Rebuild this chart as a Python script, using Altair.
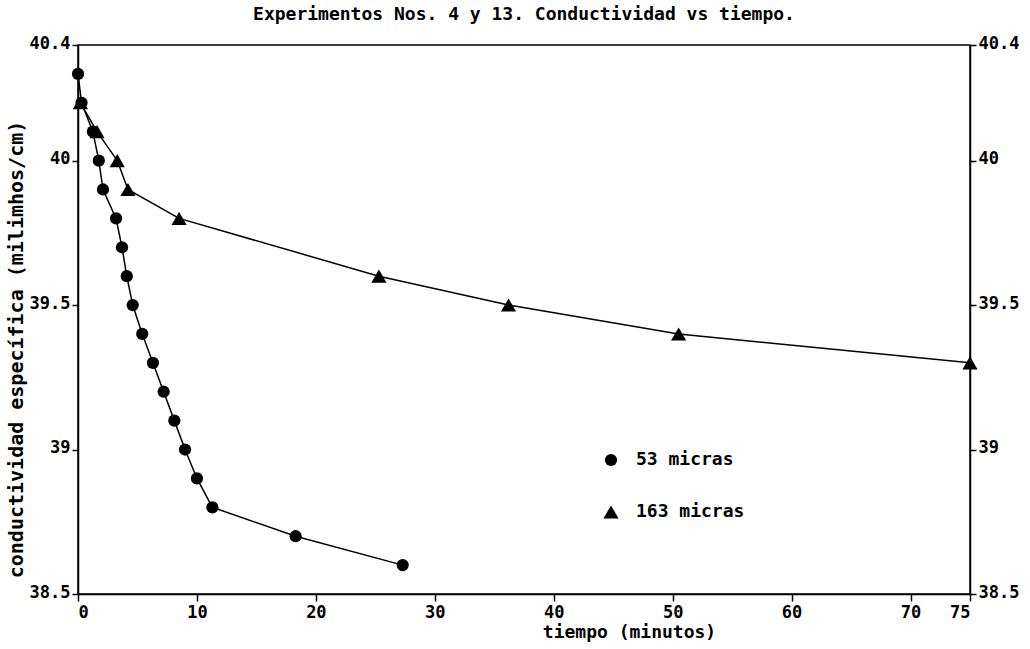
import altair as alt
import pandas as pd

# 53 micras (circles)
t53 = [0, 0.3, 1.25, 1.75, 2.1, 3.2, 3.7, 4.1, 4.6, 5.4, 6.3, 7.2, 8.1, 9.0, 10.0, 11.3, 18.3, 27.3]
c53 = [40.3, 40.2, 40.1, 40.0, 39.9, 39.8, 39.7, 39.6, 39.5, 39.4, 39.3, 39.2, 39.1, 39.0, 38.9, 38.8, 38.7, 38.6]

# 163 micras (triangles)
t163 = [0.2, 1.6, 3.3, 4.2, 8.5, 25.3, 36.2, 50.5, 75.0]
c163 = [40.2, 40.1, 40.0, 39.9, 39.8, 39.6, 39.5, 39.4, 39.3]

series_names = ["53 micras", "163 micras"]
x_ticks = [0, 10, 20, 30, 40, 50, 60, 70, 75]
y_ticks = [38.5, 39, 39.5, 40, 40.4]

df = pd.concat([
    pd.DataFrame({"t": t53, "c": c53, "serie": series_names[0]}),
    pd.DataFrame({"t": t163, "c": c163, "serie": series_names[1]}),
], ignore_index=True)

FONT = "DejaVu Sans Mono"

xscale = alt.Scale(domain=[0, 75], nice=False, zero=False)
yscale = alt.Scale(domain=[38.5, 40.4], nice=False, zero=False)

xaxis = alt.Axis(
    values=x_ticks, format="~g", grid=False, domainColor="black", domainWidth=1.5,
    tickColor="black", tickSize=7, tickWidth=1.5, labelFont=FONT, labelFontSize=17,
    labelFontWeight="bold", labelColor="black", labelPadding=3,
    title="tiempo (minutos)", titleFont=FONT, titleFontSize=18, titleFontWeight="bold",
    titleColor="black", titleX=551, titleY=38, titleBaseline="middle", titleAnchor="start",
    titleAlign="center",
)

yaxis_left = alt.Axis(
    values=y_ticks, format="~g", grid=False, domainColor="black", domainWidth=1.5,
    tickColor="black", tickSize=6, tickWidth=1.5, labelFont=FONT, labelFontSize=17,
    labelFontWeight="bold", labelColor="black", labelPadding=2, labelOffset=-2,
    title="conductividad específica (milimhos/cm)", titleFont=FONT, titleFontSize=20,
    titleFontWeight="bold", titleColor="black", titleX=-62, titleY=304,
    titleAngle=-90, titleAlign="center", titleBaseline="middle",
)

yaxis_right = alt.Axis(
    orient="right", values=y_ticks, format="~g", grid=False, domainColor="black",
    domainWidth=1.5, tickColor="black", tickSize=6, tickWidth=1.5, labelFont=FONT,
    labelFontSize=17, labelFontWeight="bold", labelColor="black", labelPadding=2,
    labelOffset=-2, title=None,
)

shape_scale = alt.Scale(domain=series_names, range=["circle", "triangle-up"])
size_scale = alt.Scale(domain=series_names, range=[150, 230])

legend = alt.Legend(
    title=None, orient="none", legendX=524, legendY=406,
    labelFont=FONT, labelFontSize=18, labelFontWeight="bold", labelColor="black",
    symbolFillColor="black", symbolStrokeColor="black",
    symbolOpacity=1, rowPadding=32, labelOffset=16,
)

lines = alt.Chart(df).mark_line(color="black", strokeWidth=1.5).encode(
    x=alt.X("t:Q", scale=xscale, axis=xaxis),
    y=alt.Y("c:Q", scale=yscale, axis=yaxis_left),
    detail="serie:N",
)

points = alt.Chart(df).mark_point(filled=True, color="black", opacity=1).encode(
    x=alt.X("t:Q", scale=xscale),
    y=alt.Y("c:Q", scale=yscale),
    shape=alt.Shape("serie:N", scale=shape_scale, legend=legend),
    size=alt.Size("serie:N", scale=size_scale, legend=legend),
)

right = alt.Chart(df).mark_point(opacity=0).encode(
    x=alt.X("t:Q", scale=xscale),
    y=alt.Y("c:Q", scale=yscale, axis=yaxis_right),
)

chart = (
    alt.layer(lines + points, right)
    .resolve_scale(y="independent")
    .properties(
        width=892, height=549,
        autosize=alt.AutoSizeParams(type="none"),
        padding={"left": 78, "top": 45, "right": 60, "bottom": 55},
        title=alt.TitleParams(
            "Experimentos Nos. 4 y 13. Conductividad vs tiempo.",
            font=FONT, fontSize=18, fontWeight="bold", color="black",
            anchor="middle", offset=10,
        ),
        background="white",
    )
    .configure_view(stroke="black", strokeWidth=1.5)
)

chart.save("out.html", embed_options={"renderer": "svg", "actions": False})
